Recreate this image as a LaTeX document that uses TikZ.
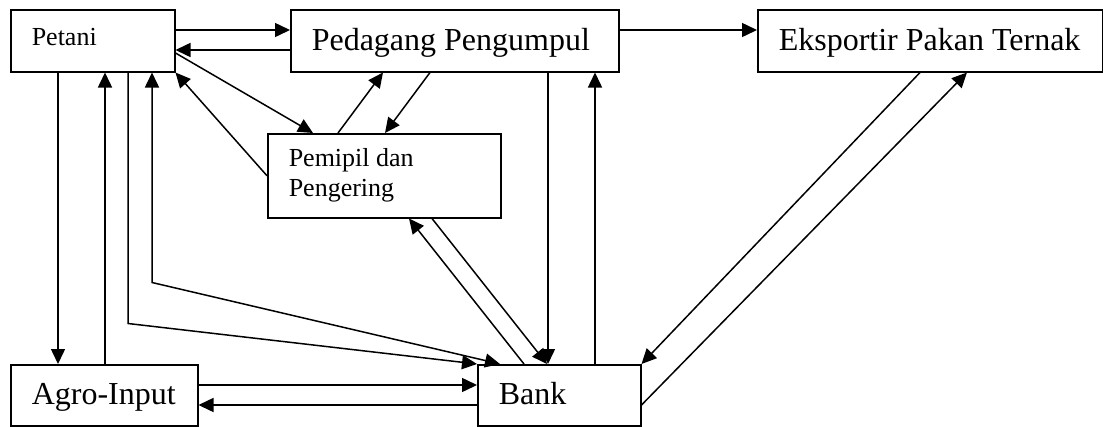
\documentclass[tikz,border=0pt]{standalone}
\usepackage{fontspec}
\setmainfont{Liberation Serif}
\usetikzlibrary{arrows.meta}

\begin{document}
\begin{tikzpicture}[x=1pt,y=-1pt,line width=1.5pt,>={Triangle[length=15pt,width=14pt]}]
    \tikzstyle{box}=[draw, rectangle, anchor=north west, inner xsep=21pt, inner ysep=0pt, align=flush left]
    \tikzstyle{big}=[font=\fontsize{32}{36}\selectfont, text height=25pt, text depth=6pt]
    \tikzstyle{small}=[font=\fontsize{26}{30}\selectfont]
    \useasboundingbox (0,0) rectangle (1103,426);
    % boxes
    \node [box, small, text height=16pt, text depth=6pt, text width=122pt, minimum height=62pt] (petani) at (10,9) {Petani};
    \node [box, big, text width=286pt, minimum height=62pt] (pedagang) at (290,9) {Pedagang Pengumpul};
    \node [box, big, text width=303pt, minimum height=62pt] (eksportir) at (757,9) {\mbox{Eksportir Pakan Ternak}};
    \node [box, small, text width=191pt, minimum height=84pt] (pemipil) at (267,133) {Pemipil dan\\Pengering};
    \node [box, big, text width=145pt, minimum height=61pt] (agro) at (10,364) {Agro-Input};
    \node [box, big, text width=121pt, minimum height=61pt] (bank) at (477,364) {Bank};
    % top row
    \draw [->] ([yshift=-21pt]petani.north east) -- ([yshift=-21pt]pedagang.north west);
    \draw [->] ([yshift=-41pt]pedagang.north west) -- ([yshift=-41pt]petani.north east);
    \draw [->] ([yshift=-21pt]pedagang.north east) -- ([yshift=-21pt]eksportir.north west);
    % petani - pemipil - pedagang
    \draw [->] ([yshift=-44pt]petani.north east) -- ([xshift=46pt]pemipil.north west);
    \draw [->] (pemipil.west) -- (petani.south east);
    \draw [->] ([xshift=71pt]pemipil.north west) -- ([xshift=93pt]pedagang.south west);
    \draw [->] ([xshift=140pt]pedagang.south west) -- ([xshift=118pt]pemipil.north west);
    % petani - agro-input
    \draw [->] ([xshift=48pt]petani.south west) -- ([xshift=48pt]agro.north west);
    \draw [->] ([xshift=95pt]agro.north west) -- ([xshift=95pt]petani.south west);
    % petani - bank
    \draw [->] ([xshift=118pt]petani.south west) -- ++(0,251) -- (bank.north west);
    \draw [<->] ([xshift=142pt]petani.south west) -- ++(0,210) -- ([xshift=23pt]bank.north west);
    % agro-input - bank
    \draw [->] ([yshift=-21pt]agro.north east) -- ([yshift=-21pt]bank.north west);
    \draw [->] ([yshift=-41pt]bank.north west) -- ([yshift=-41pt]agro.north east);
    % pemipil - bank
    \draw [->] ([xshift=47pt]bank.north west) -- ([xshift=142pt]pemipil.south west);
    \draw [->] ([xshift=165pt]pemipil.south west) -- ([xshift=70pt]bank.north west);
    % pedagang - bank
    \draw [->] ([xshift=258pt]pedagang.south west) -- ([xshift=71pt]bank.north west);
    \draw [->] ([xshift=118pt]bank.north west) -- ([xshift=305pt]pedagang.south west);
    % eksportir - bank
    \draw [->] ([xshift=163pt]eksportir.south west) -- (bank.north east);
    \draw [->] ([yshift=-41pt]bank.north east) -- ([xshift=210pt]eksportir.south west);
\end{tikzpicture}
\end{document}
